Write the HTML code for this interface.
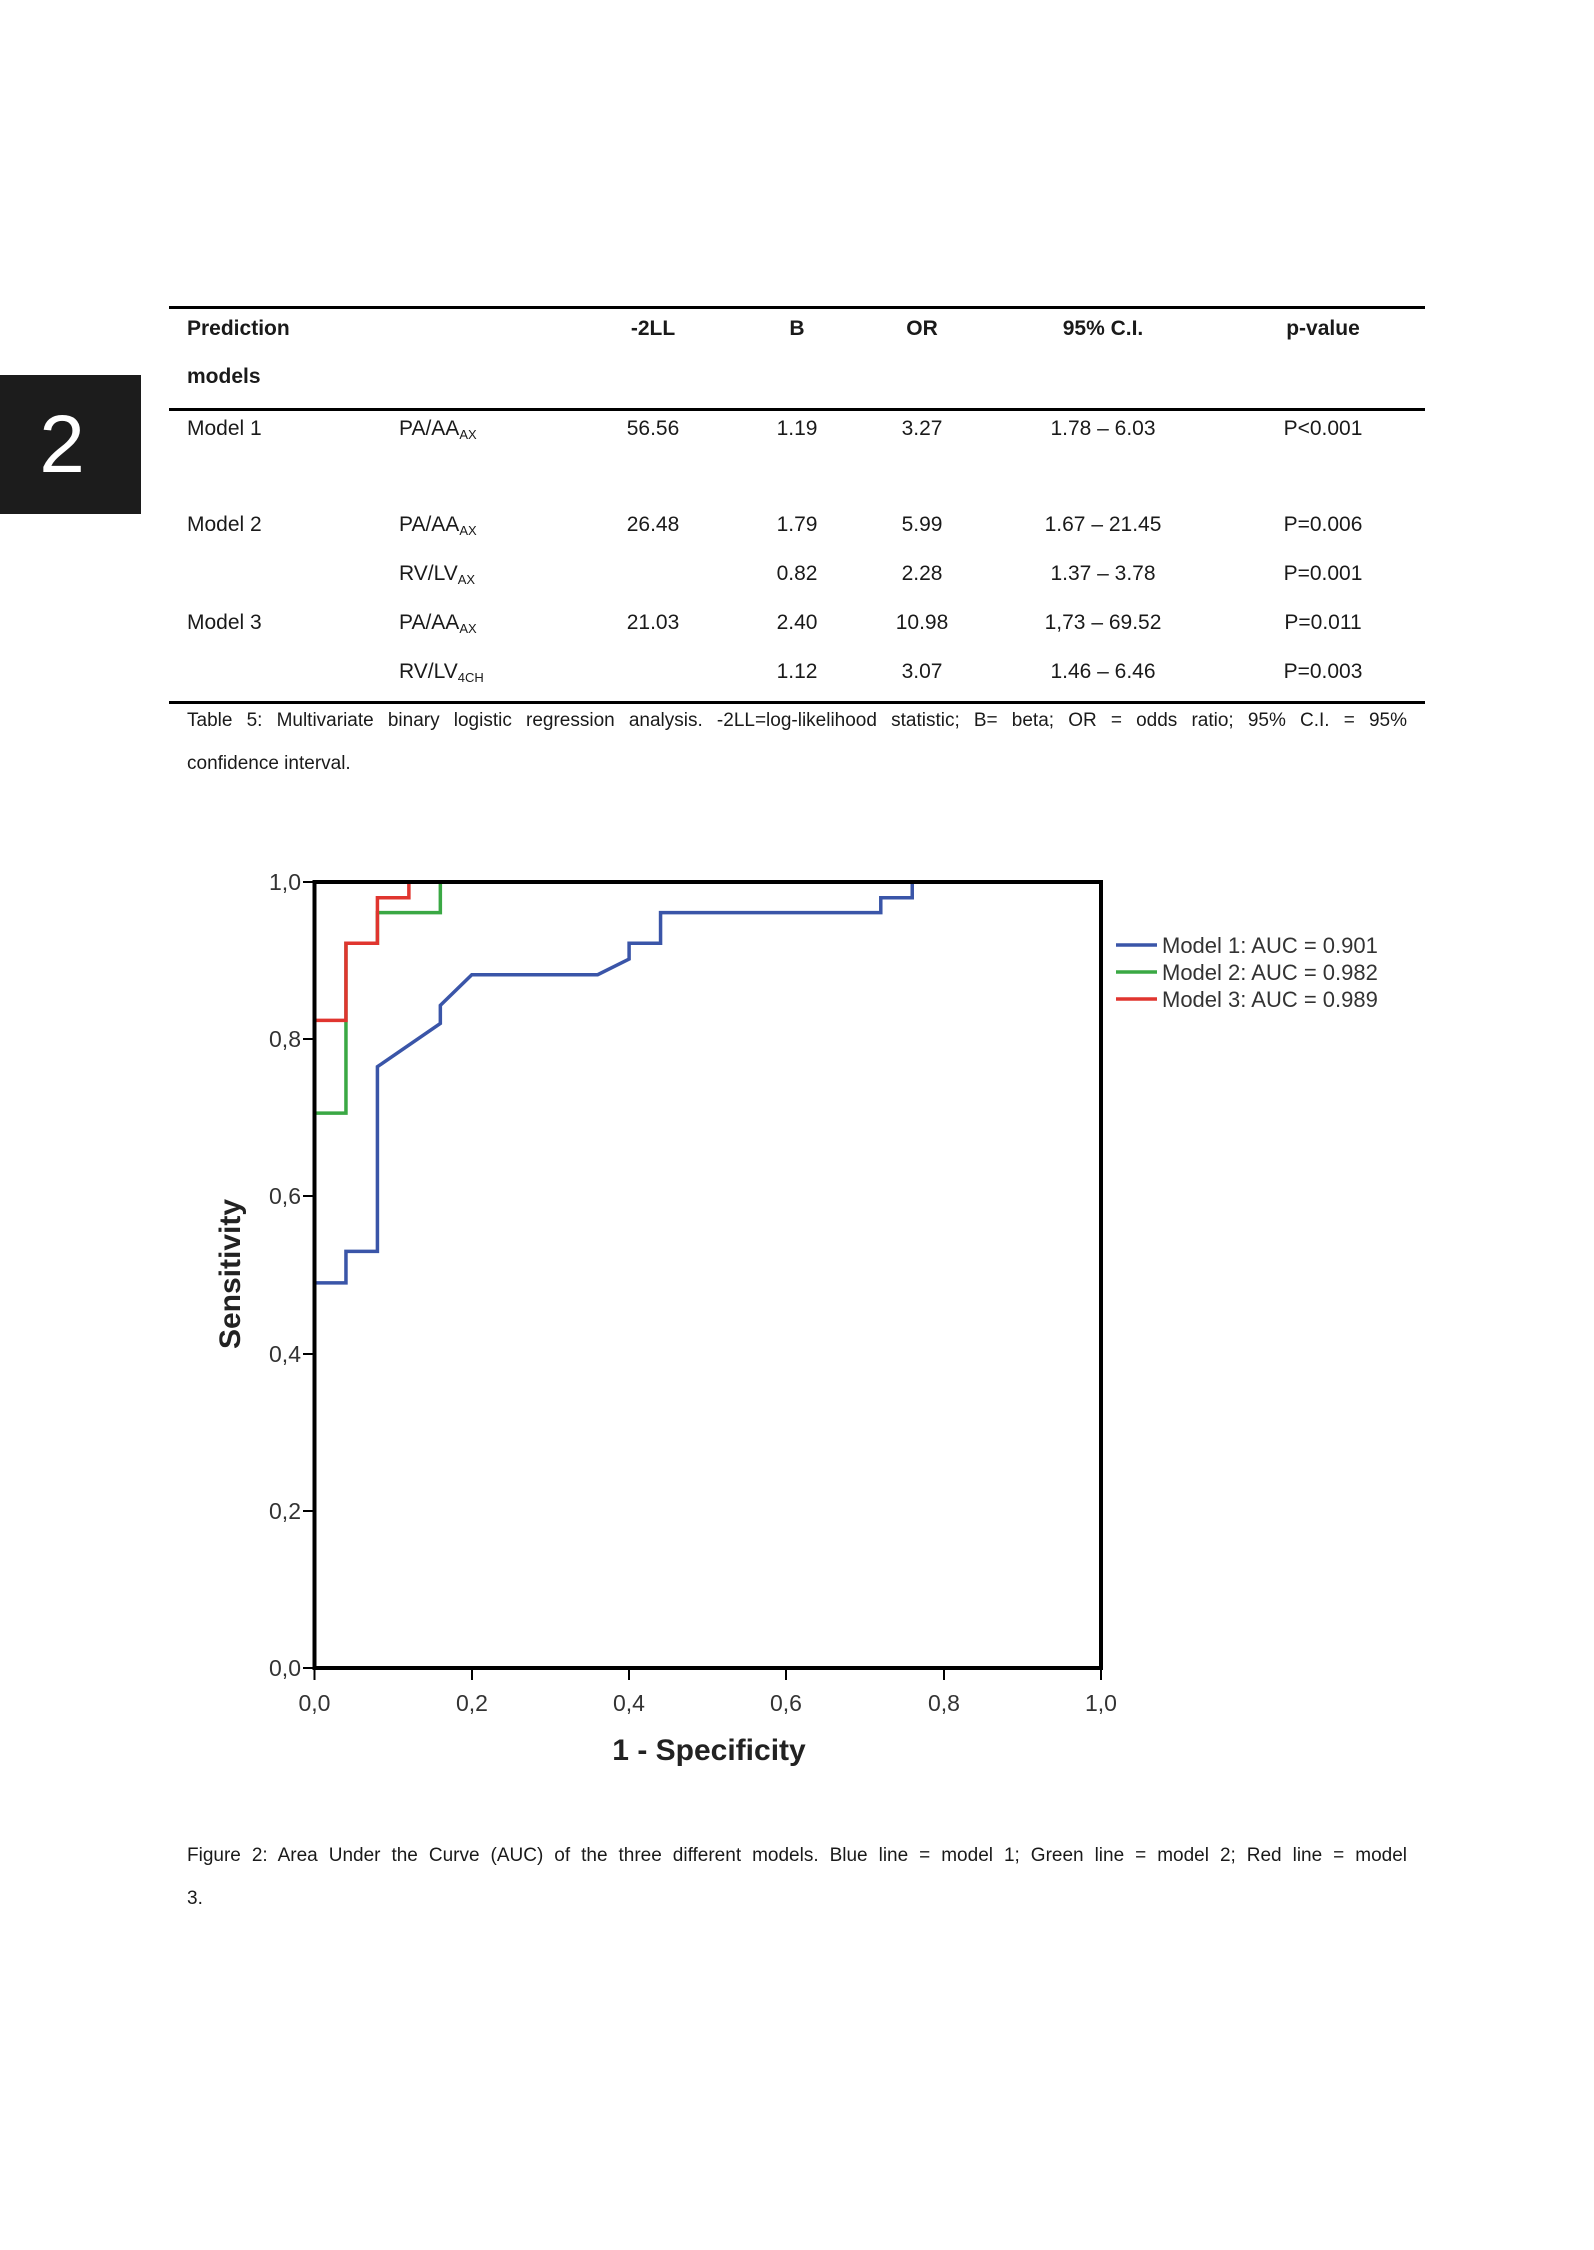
<!DOCTYPE html>
<html><head><meta charset="utf-8"><style>
body{margin:0;background:#fff;}
#p{position:relative;width:1594px;height:2250px;overflow:hidden;font-family:"Liberation Sans",sans-serif;color:#1a1a1a;}
.t{position:absolute;font-size:21px;white-space:nowrap;line-height:1;}
.c{transform:translateX(-50%);}
.b{font-weight:bold;}
.rule{position:absolute;left:169px;width:1256px;height:3px;background:#000;}
sub{font-size:13px;vertical-align:-4px;}
</style></head><body><div id="p">
<div style="position:absolute;left:0;top:375px;width:141px;height:139px;background:#1c1c1c;"></div>
<div style="position:absolute;left:62px;top:375px;transform:translateX(-50%);color:#fff;font-size:82px;line-height:139px;">2</div>
<div class="rule" style="top:306px"></div>
<div class="rule" style="top:408px"></div>
<div class="rule" style="top:701px"></div>
<div class="t b" style="left:187px;top:318px">Prediction</div>
<div class="t b" style="left:187px;top:366px">models</div>
<div class="t b c" style="left:653px;top:318px">-2LL</div>
<div class="t b c" style="left:797px;top:318px">B</div>
<div class="t b c" style="left:922px;top:318px">OR</div>
<div class="t b c" style="left:1103px;top:318px">95% C.I.</div>
<div class="t b c" style="left:1323px;top:318px">p-value</div>

<div class="t" style="left:187px;top:418px">Model 1</div>
<div class="t" style="left:399px;top:418px">PA/AA<sub>AX</sub></div>
<div class="t c" style="left:653px;top:418px">56.56</div>
<div class="t c" style="left:797px;top:418px">1.19</div>
<div class="t c" style="left:922px;top:418px">3.27</div>
<div class="t c" style="left:1103px;top:418px">1.78 – 6.03</div>
<div class="t c" style="left:1323px;top:418px">P&lt;0.001</div>

<div class="t" style="left:187px;top:514px">Model 2</div>
<div class="t" style="left:399px;top:514px">PA/AA<sub>AX</sub></div>
<div class="t c" style="left:653px;top:514px">26.48</div>
<div class="t c" style="left:797px;top:514px">1.79</div>
<div class="t c" style="left:922px;top:514px">5.99</div>
<div class="t c" style="left:1103px;top:514px">1.67 – 21.45</div>
<div class="t c" style="left:1323px;top:514px">P=0.006</div>

<div class="t" style="left:399px;top:563px">RV/LV<sub>AX</sub></div>
<div class="t c" style="left:797px;top:563px">0.82</div>
<div class="t c" style="left:922px;top:563px">2.28</div>
<div class="t c" style="left:1103px;top:563px">1.37 – 3.78</div>
<div class="t c" style="left:1323px;top:563px">P=0.001</div>

<div class="t" style="left:187px;top:612px">Model 3</div>
<div class="t" style="left:399px;top:612px">PA/AA<sub>AX</sub></div>
<div class="t c" style="left:653px;top:612px">21.03</div>
<div class="t c" style="left:797px;top:612px">2.40</div>
<div class="t c" style="left:922px;top:612px">10.98</div>
<div class="t c" style="left:1103px;top:612px">1,73 – 69.52</div>
<div class="t c" style="left:1323px;top:612px">P=0.011</div>

<div class="t" style="left:399px;top:661px">RV/LV<sub>4CH</sub></div>
<div class="t c" style="left:797px;top:661px">1.12</div>
<div class="t c" style="left:922px;top:661px">3.07</div>
<div class="t c" style="left:1103px;top:661px">1.46 – 6.46</div>
<div class="t c" style="left:1323px;top:661px">P=0.003</div>

<div class="t" style="left:187px;top:711px;font-size:19px;width:1220px;white-space:normal;text-align:justify;text-align-last:justify;">Table 5: Multivariate binary logistic regression analysis. -2LL=log-likelihood statistic; B= beta; OR = odds ratio; 95% C.I. = 95%</div>
<div class="t" style="left:187px;top:754px;font-size:19px">confidence interval.</div>

<svg style="position:absolute;left:0;top:0" width="1594" height="2250">
<g font-family="Liberation Sans, sans-serif" font-size="23" fill="#333">
<g stroke="#000" stroke-width="2">
<line x1="303" y1="882" x2="314" y2="882"/><line x1="303" y1="1039" x2="314" y2="1039"/>
<line x1="303" y1="1196" x2="314" y2="1196"/><line x1="303" y1="1354" x2="314" y2="1354"/>
<line x1="303" y1="1511" x2="314" y2="1511"/><line x1="303" y1="1668" x2="314" y2="1668"/>
<line x1="314.5" y1="1668" x2="314.5" y2="1680"/><line x1="472" y1="1668" x2="472" y2="1680"/>
<line x1="629" y1="1668" x2="629" y2="1680"/><line x1="786" y1="1668" x2="786" y2="1680"/>
<line x1="944" y1="1668" x2="944" y2="1680"/><line x1="1101" y1="1668" x2="1101" y2="1680"/>
</g>
<g text-anchor="end">
<text x="301" y="890">1,0</text><text x="301" y="1047">0,8</text><text x="301" y="1204">0,6</text>
<text x="301" y="1362">0,4</text><text x="301" y="1519">0,2</text><text x="301" y="1676">0,0</text>
</g>
<g text-anchor="middle">
<text x="314.5" y="1711">0,0</text><text x="472" y="1711">0,2</text><text x="629" y="1711">0,4</text>
<text x="786" y="1711">0,6</text><text x="944" y="1711">0,8</text><text x="1101" y="1711">1,0</text>
</g>
<text x="709" y="1760" text-anchor="middle" font-weight="bold" font-size="30" fill="#222">1 - Specificity</text>
<text transform="translate(240,1274) rotate(-90)" text-anchor="middle" font-weight="bold" font-size="30" fill="#222">Sensitivity</text>
<g font-size="22">
<text x="1162" y="953">Model 1: AUC = 0.901</text>
<text x="1162" y="980">Model 2: AUC = 0.982</text>
<text x="1162" y="1007">Model 3: AUC = 0.989</text>
</g>
</g>
<g stroke-width="3.5">
<line x1="1116" y1="945" x2="1157" y2="945" stroke="#3a55a8"/>
<line x1="1116" y1="972" x2="1157" y2="972" stroke="#3aa844"/>
<line x1="1116" y1="999" x2="1157" y2="999" stroke="#e0352f"/>
</g>
<g transform="translate(314.5,1668) scale(786.5,-786)" fill="none" stroke-width="3.5">
<polyline vector-effect="non-scaling-stroke" stroke="#3a55a8" points="0,0.49 0.04,0.49 0.04,0.53 0.08,0.53 0.08,0.765 0.16,0.82 0.16,0.843 0.2,0.882 0.36,0.882 0.4,0.902 0.4,0.922 0.44,0.922 0.44,0.961 0.72,0.961 0.72,0.98 0.76,0.98 0.76,1 1,1"/>
<polyline vector-effect="non-scaling-stroke" stroke="#3aa844" points="0,0.706 0.04,0.706 0.04,0.922 0.08,0.922 0.08,0.961 0.16,0.961 0.16,1"/>
<polyline vector-effect="non-scaling-stroke" stroke="#e0352f" points="0,0.824 0.04,0.824 0.04,0.922 0.08,0.922 0.08,0.98 0.12,0.98 0.12,1 0.16,1"/>
</g>
<rect x="314.5" y="882" width="786.5" height="786" fill="none" stroke="#000" stroke-width="4"/>
</svg>

<div class="t" style="left:187px;top:1846px;font-size:19px;width:1220px;white-space:normal;text-align:justify;text-align-last:justify;">Figure 2: Area Under the Curve (AUC) of the three different models. Blue line = model 1; Green line = model 2; Red line = model</div>
<div class="t" style="left:187px;top:1889px;font-size:19px">3.</div>
</div></body></html>
